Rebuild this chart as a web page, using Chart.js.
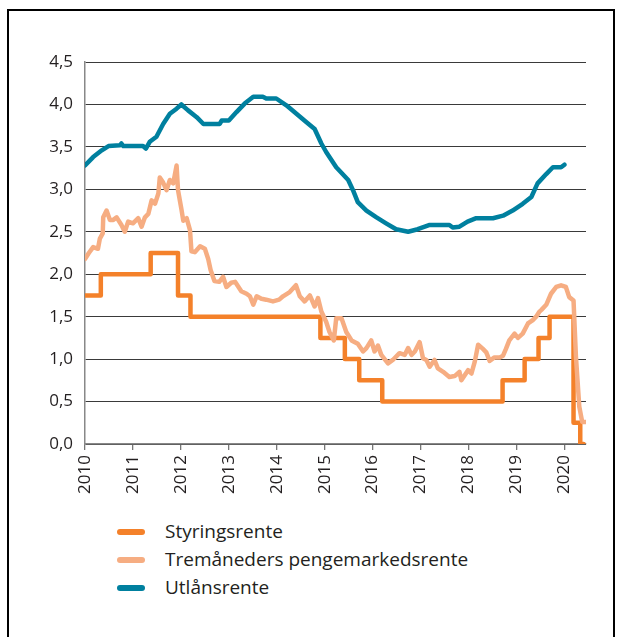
<!DOCTYPE html>
<html>
<head>
<meta charset="utf-8">
<script src="https://cdn.jsdelivr.net/npm/chart.js@4"></script>
<style>
  body { margin: 0; background: #fff; font-family: "Open Sans", sans-serif; }
  #frame { position: absolute; left: 7px; top: 9px; width: 604px; height: 640px;
           border: 2px solid #000; border-bottom: none; }
  #wrap { position: absolute; left: 0; top: 0; width: 619px; height: 500px; }
  #legend { position: absolute; left: 117px; top: 517px; color: #231f20; font-size: 19px; }
  .item { height: 28px; line-height: 28px; white-space: nowrap; }
  .swatch { display: inline-block; width: 28px; height: 6px; border-radius: 3px;
            vertical-align: middle; margin-right: 20px; position: relative; top: -1px; }
</style>
</head>
<body>
<div id="frame"></div>
<div id="wrap"><canvas id="rateChart" width="619" height="500"></canvas></div>
<div id="legend"></div>
<script>
// Styringsrente: change dates and new level
const policyYears = [2010.00, 2010.33, 2011.37, 2011.94, 2012.20, 2014.91, 2015.42, 2015.72, 2016.20,
                     2018.71, 2019.17, 2019.46, 2019.69, 2020.19, 2020.33, 2020.40];
const policyRate  = [1.75, 2.00, 2.25, 1.75, 1.50, 1.25, 1.00, 0.75, 0.50,
                     0.75, 1.00, 1.25, 1.50, 0.25, 0.00, 0.00];

// Tremåneders pengemarkedsrente
const moneyYears = [2010.00, 2010.08, 2010.17, 2010.27, 2010.31, 2010.37, 2010.38, 2010.45, 2010.52, 2010.59,
                    2010.66, 2010.76, 2010.83, 2010.90, 2011.00, 2011.11, 2011.18, 2011.25, 2011.32, 2011.39,
                    2011.46, 2011.53, 2011.56, 2011.63, 2011.70, 2011.77, 2011.84, 2011.91, 2011.94, 2012.01,
                    2012.05, 2012.12, 2012.19, 2012.22, 2012.29, 2012.40, 2012.50, 2012.57, 2012.62, 2012.70,
                    2012.80, 2012.88, 2012.95, 2013.05, 2013.13, 2013.26, 2013.37, 2013.44, 2013.51, 2013.58,
                    2013.68, 2013.78, 2013.92, 2014.05, 2014.13, 2014.27, 2014.40, 2014.48, 2014.58, 2014.69,
                    2014.79, 2014.86, 2014.93, 2015.03, 2015.10, 2015.19, 2015.24, 2015.35, 2015.45, 2015.56,
                    2015.69, 2015.80, 2015.87, 2015.97, 2016.04, 2016.11, 2016.18, 2016.32, 2016.42, 2016.56,
                    2016.67, 2016.74, 2016.81, 2016.88, 2016.98, 2017.05, 2017.12, 2017.19, 2017.29, 2017.36,
                    2017.47, 2017.60, 2017.71, 2017.81, 2017.85, 2017.92, 2017.99, 2018.06, 2018.13, 2018.20,
                    2018.30, 2018.37, 2018.44, 2018.54, 2018.65, 2018.72, 2018.78, 2018.85, 2018.96, 2019.03,
                    2019.13, 2019.24, 2019.34, 2019.41, 2019.48, 2019.52, 2019.62, 2019.72, 2019.83, 2019.93,
                    2020.03, 2020.10, 2020.19, 2020.24, 2020.31, 2020.37, 2020.44];
const moneyRate  = [2.18, 2.25, 2.32, 2.30, 2.42, 2.48, 2.67, 2.75, 2.64, 2.64,
                    2.67, 2.58, 2.50, 2.62, 2.60, 2.66, 2.56, 2.67, 2.71, 2.87,
                    2.83, 2.95, 3.14, 3.08, 2.99, 3.11, 3.07, 3.28, 2.99, 2.77,
                    2.63, 2.66, 2.52, 2.27, 2.26, 2.33, 2.30, 2.18, 2.05, 1.92,
                    1.91, 1.97, 1.85, 1.90, 1.91, 1.80, 1.77, 1.74, 1.64, 1.74,
                    1.71, 1.70, 1.68, 1.70, 1.74, 1.79, 1.87, 1.74, 1.68, 1.75,
                    1.62, 1.72, 1.56, 1.44, 1.32, 1.22, 1.48, 1.48, 1.32, 1.22,
                    1.18, 1.09, 1.13, 1.22, 1.09, 1.16, 1.05, 0.95, 0.99, 1.07,
                    1.05, 1.13, 1.05, 1.09, 1.20, 1.01, 0.99, 0.91, 0.99, 0.89,
                    0.85, 0.79, 0.80, 0.85, 0.75, 0.81, 0.87, 0.83, 0.97, 1.17,
                    1.12, 1.08, 0.98, 1.02, 1.02, 1.04, 1.12, 1.22, 1.30, 1.25,
                    1.30, 1.42, 1.46, 1.50, 1.56, 1.58, 1.64, 1.77, 1.85, 1.87,
                    1.85, 1.73, 1.69, 1.03, 0.44, 0.26, 0.26];

// Utlånsrente
const lendYears = [2010.00, 2010.17, 2010.35, 2010.49, 2010.73, 2010.76, 2010.80, 2011.21, 2011.27, 2011.35,
                   2011.49, 2011.63, 2011.77, 2011.91, 2012.01, 2012.15, 2012.33, 2012.47, 2012.81, 2012.85,
                   2013.00, 2013.16, 2013.33, 2013.51, 2013.71, 2013.78, 2013.99, 2014.20, 2014.41, 2014.62,
                   2014.79, 2014.93, 2015.03, 2015.24, 2015.49, 2015.59, 2015.69, 2015.87, 2016.08, 2016.28,
                   2016.49, 2016.74, 2016.94, 2017.19, 2017.60, 2017.67, 2017.81, 2017.98, 2018.16, 2018.51,
                   2018.72, 2018.92, 2019.13, 2019.31, 2019.44, 2019.62, 2019.76, 2019.93, 2020.00];
const lendRate  = [3.28, 3.38, 3.46, 3.51, 3.52, 3.54, 3.51, 3.51, 3.48, 3.56,
                   3.62, 3.77, 3.89, 3.95, 4.00, 3.93, 3.85, 3.77, 3.77, 3.81,
                   3.81, 3.91, 4.01, 4.09, 4.09, 4.07, 4.07, 3.99, 3.89, 3.79,
                   3.71, 3.54, 3.44, 3.26, 3.11, 2.99, 2.85, 2.75, 2.67, 2.60,
                   2.53, 2.50, 2.53, 2.58, 2.58, 2.55, 2.56, 2.62, 2.66, 2.66,
                   2.69, 2.75, 2.83, 2.91, 3.07, 3.18, 3.26, 3.26, 3.29];

const yearTicks = [2010, 2011, 2012, 2013, 2014, 2015, 2016, 2017, 2018, 2019, 2020];
const seriesNames = ['Styringsrente', 'Tremåneders pengemarkedsrente', 'Utlånsrente'];
const seriesColors = ['#f4812a', '#f6ad82', '#00809f'];

function toPoints(xs, ys) {
    return xs.map(function(x, i) { return { x: x, y: ys[i] }; });
}

document.addEventListener('DOMContentLoaded', function() {
    const ctx = document.getElementById('rateChart').getContext('2d');
    const lineBase = { pointRadius: 0, borderWidth: 4.5, borderJoinStyle: 'round', borderCapStyle: 'round', fill: false, tension: 0 };

    new Chart(ctx, {
        type: 'line',
        data: {
            datasets: [
                Object.assign({ label: seriesNames[0], data: toPoints(policyYears, policyRate),
                    borderColor: seriesColors[0], stepped: 'before', order: 1 }, lineBase),
                Object.assign({ label: seriesNames[1], data: toPoints(moneyYears, moneyRate),
                    borderColor: seriesColors[1], order: 0 }, lineBase),
                Object.assign({ label: seriesNames[2], data: toPoints(lendYears, lendRate),
                    borderColor: seriesColors[2], order: 2 }, lineBase)
            ]
        },
        options: {
            responsive: false,
            animation: false,
            layout: { padding: { left: 0, top: 62, right: 33, bottom: 0 } },
            plugins: { legend: { display: false }, tooltip: { enabled: false } },
            scales: {
                x: {
                    type: 'linear',
                    min: 2010,
                    max: 2020.45,
                    afterBuildTicks: function(s) { s.ticks = yearTicks.map(function(v) { return { value: v }; }); },
                    afterFit: function(s) { s.height = 56; },
                    grid: { drawOnChartArea: false, drawTicks: true, tickLength: 6, color: '#777', lineWidth: 1.3 },
                    border: { color: '#888', width: 1.5 },
                    ticks: {
                        minRotation: 90, maxRotation: 90, autoSkip: false, padding: 5,
                        color: '#231f20', font: { family: 'Open Sans', size: 17 },
                        callback: function(v) { return String(v); }
                    }
                },
                y: {
                    min: 0,
                    max: 4.5,
                    afterFit: function(s) { s.width = 85; },
                    grid: { drawTicks: false, color: '#3a3a3a', lineWidth: 1 },
                    border: { color: '#888', width: 1.5 },
                    ticks: {
                        stepSize: 0.5, padding: 12,
                        color: '#231f20', font: { family: 'Open Sans', size: 17 },
                        callback: function(v) { return v.toFixed(1).replace('.', ','); }
                    }
                }
            }
        }
    });

    // legend in the same order as the original
    const legend = document.getElementById('legend');
    seriesNames.forEach(function(name, i) {
        const row = document.createElement('div');
        row.className = 'item';
        const sw = document.createElement('span');
        sw.className = 'swatch';
        sw.style.background = seriesColors[i];
        row.appendChild(sw);
        row.appendChild(document.createTextNode(name));
        legend.appendChild(row);
    });
});
</script>
</body>
</html>
